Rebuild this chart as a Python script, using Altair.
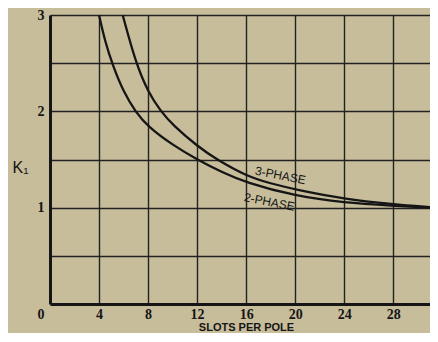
import altair as alt
import pandas as pd

# Values
x_2ph = [4.0, 4.5, 5.14, 6.0, 7.0, 8.0, 10.0, 12.0, 14.0, 16.0, 20.0, 24.0, 28.0, 31.0]
y_2ph = [3.0, 2.72, 2.47, 2.2, 1.99, 1.84, 1.65, 1.5, 1.37, 1.26, 1.12, 1.05, 1.02, 1.0]
x_3ph = [5.93, 7.0, 8.0, 9.04, 10.0, 12.0, 13.6, 16.0, 18.0, 20.0, 24.0, 28.0, 31.0]
y_3ph = [3.0, 2.5, 2.2, 2.0, 1.86, 1.64, 1.5, 1.33, 1.25, 1.19, 1.09, 1.035, 1.005]

x_ticks = [4, 8, 12, 16, 20, 24, 28]
y_ticks = [0.5, 1, 1.5, 2, 2.5, 3]

label_text = ["3-PHASE", "2-PHASE"]
label_x = [18.8, 17.9]
label_y = [1.335, 1.06]

origin_text = ["0"]

lines_df = pd.DataFrame(
    {"x": x_2ph + x_3ph,
     "y": y_2ph + y_3ph,
     "series": ["2-phase"] * len(x_2ph) + ["3-phase"] * len(x_3ph)}
)
labels_df = pd.DataFrame({"text": label_text, "x": label_x, "y": label_y})
origin_df = pd.DataFrame({"text": origin_text, "x": [0], "y": [0]})

INK = "#151515"

xscale = alt.Scale(domain=[0, 31], nice=False, zero=True)
yscale = alt.Scale(domain=[0, 3], nice=False)

xaxis = alt.Axis(
    values=x_ticks, grid=True, gridColor="#222222", gridWidth=1.4,
    ticks=False, domain=True, domainColor=INK, domainWidth=3,
    labelFont="Liberation Serif", labelFontWeight="bold", labelFontSize=14,
    labelColor=INK, labelPadding=3,
    title="SLOTS PER POLE", titleFont="Liberation Sans", titleFontSize=11,
    titleFontWeight="bold", titleColor=INK, titleX=196, titleY=26,
    titleAlign="center", titleBaseline="alphabetic",
)
yaxis = alt.Axis(
    values=y_ticks, grid=True, gridColor="#222222", gridWidth=1.4,
    ticks=False, domain=True, domainColor=INK, domainWidth=3,
    labelExpr="datum.value % 1 == 0 ? format(datum.value, 'd') : ''",
    labelFont="Liberation Serif", labelFontWeight="bold", labelFontSize=14,
    labelColor=INK, labelPadding=6,
    title="K₁", titleAngle=0, titleX=-30, titleY=152,
    titleFont="Liberation Sans", titleFontSize=16, titleFontWeight="normal",
    titleColor=INK, titleAlign="center", titleBaseline="middle",
)

lines = alt.Chart(lines_df).mark_line(
    color=INK, strokeWidth=2.3, interpolate="basis", clip=True
).encode(
    x=alt.X("x:Q", scale=xscale, axis=xaxis),
    y=alt.Y("y:Q", scale=yscale, axis=yaxis),
    detail="series:N",
)

labels = alt.Chart(labels_df).mark_text(
    font="Liberation Sans", fontSize=12, color=INK, angle=11
).encode(
    x=alt.X("x:Q", scale=xscale),
    y=alt.Y("y:Q", scale=yscale),
    text="text:N",
)

origin = alt.Chart(origin_df).mark_text(
    font="Liberation Serif", fontWeight="bold", fontSize=14, color=INK,
    dx=-9, dy=11
).encode(
    x=alt.X("x:Q", scale=xscale),
    y=alt.Y("y:Q", scale=yscale),
    text="text:N",
)

chart = alt.layer(lines, labels, origin).properties(
    width=380, height=289,
    background="#c7bd9b",
    autosize=alt.AutoSizeParams(type="none"),
    padding={"left": 42, "top": 7, "right": 0, "bottom": 29},
).configure_view(stroke=None)

chart.save("out.html", embed_options={"renderer": "svg", "actions": False})
